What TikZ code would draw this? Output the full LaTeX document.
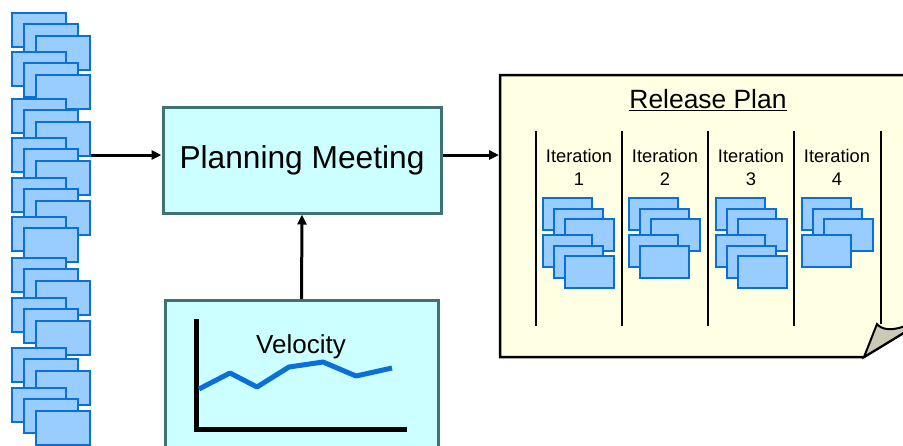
\documentclass[tikz,border=0pt]{standalone}
\usepackage{fontspec}
\setmainfont{Liberation Sans}
\usetikzlibrary{arrows.meta,positioning,calc}
\definecolor{ink}{HTML}{000000}
\definecolor{cardfill}{HTML}{99CCFF}
\definecolor{cardline}{HTML}{0A6FD8}
\definecolor{boxfill}{HTML}{CCFFFF}
\definecolor{boxline}{HTML}{3F7373}
\definecolor{pagefill}{HTML}{FFFFE3}
\definecolor{foldfill}{HTML}{CACAB6}
\tikzset{
  >={Triangle[length=10pt,width=9pt]},
  every picture/.style={line join=miter},
  card/.style={draw=cardline, fill=cardfill, line width=2.2pt},
  smallcard/.style={card, line width=1.8pt},
  box/.style={draw=boxline, fill=boxfill, line width=3pt, inner sep=0pt},
  arrow/.style={->, line width=3pt, draw=ink},
  divider/.style={line width=2pt, draw=ink},
  annot/.style={text=ink, align=center}
}

\begin{document}
\begin{tikzpicture}[x=1pt, y=-1pt]
  \useasboundingbox (0,0) rectangle (903,445);
  \clip (0,0) rectangle (903,445);

  % Backlog of story cards
  \foreach \y/\n in {13/3,52/3,99/3,138/3,178/3,217/2,258/3,298/3,348/3,388/3} {
    \foreach \k in {1,...,\n}
      \draw[card] ({12*\k},{\y+11.3*(\k-1)}) rectangle ++(54,34);
  }
  \coordinate (stack) at (91,155);

  % Planning meeting
  \node[box, minimum width=278pt, minimum height=106pt, font=\fontsize{31.7}{38}\selectfont]
    (planning) at (302,160) {Planning Meeting};

  % Velocity chart
  \node[box, minimum width=273pt, minimum height=170pt, anchor=north] (velocity) at (301.5,299) {};
  \node[annot, font=\fontsize{26}{30}\selectfont] (vlabel) at (301,347) {Velocity};
  \draw[line width=5pt, ink] (196,319) -- (196,429) -- (407,429);
  \draw[line width=5pt, cardline, line join=round]
    (199,389) -- (230,373) -- (257,387) -- (289,367) -- (323,362) -- (356,376) -- (392,368);

  % Release plan page with folded corner
  \filldraw[fill=pagefill, draw=ink, line width=2.5pt]
    (500,75) -- (915,75) -- (915,326) -- (864,357) -- (500,357) -- cycle;
  \filldraw[fill=foldfill, draw=ink, line width=2pt]
    (864,357) -- (877,324) .. controls (882,330) and (892,331) .. (905,326) -- (905,332) -- cycle;
  \coordinate (plan) at (499,155);
  \node[annot, font=\fontsize{26.4}{30}\selectfont] (title) at (708,100) {\underline{Release Plan}};

  \foreach \x in {536,622,708,794}
    \draw[divider] (\x,131) -- (\x,326);
  \draw[divider] (881,131) -- (881,324);

  \foreach \x/\i in {579/1,665/2,751/3,837/4}
    \node[annot, font=\fontsize{18.3}{23}\selectfont] (it\i) at (\x,167) {Iteration\\\i};

  % Cards planned into each iteration
  \foreach \cx/\n in {543/6,629/5,716/6,802/4} {
    \foreach \dx/\dy [count=\k] in {0/0,11/11,22/21,0/37,11/48,22/58} {
      \ifnum\k>\n\else
        \draw[smallcard] (\cx+\dx,198+\dy) rectangle ++(49,32);
      \fi
    }
  }

  % Flow into and out of the meeting
  \draw[arrow] (stack) -- (stack -| planning.west);
  \draw[arrow] (planning.east |- stack) -- (plan);
  \draw[arrow] (velocity.north) -- (planning.south);
\end{tikzpicture}
\end{document}
